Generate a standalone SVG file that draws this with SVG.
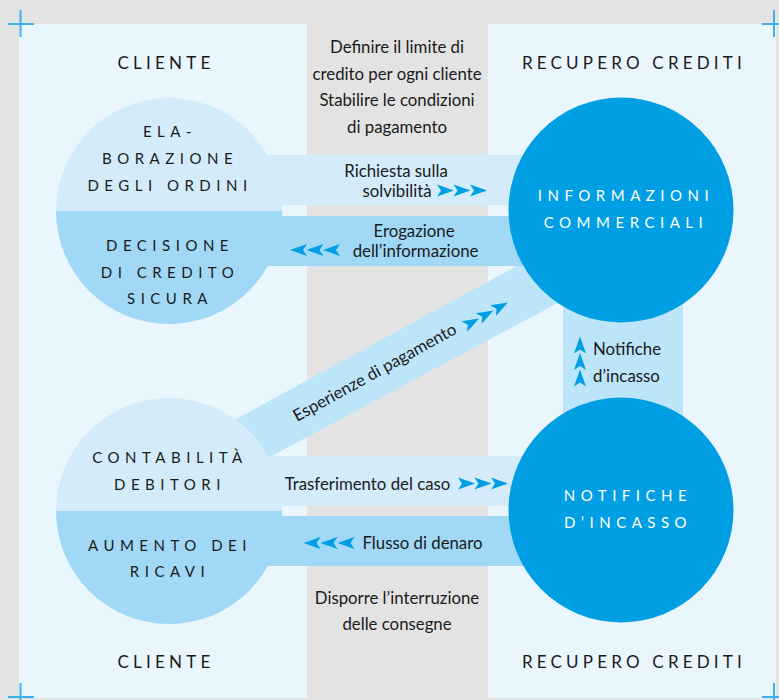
<svg xmlns="http://www.w3.org/2000/svg" width="779" height="700" viewBox="0 0 779 700">
<defs>
<style>
.t{font-family:Lato,"Open Sans","Liberation Sans",sans-serif;font-size:16.8px;fill:#1a1a1a;text-anchor:middle}
.ts{font-family:Lato,"Open Sans","Liberation Sans",sans-serif;font-size:16.8px;fill:#1a1a1a;text-anchor:start}
.cap{font-family:Lato,"Open Sans","Liberation Sans",sans-serif;font-size:15px;letter-spacing:5.5px;text-anchor:middle;fill:#1a1a1a}
.hd{font-family:Lato,"Open Sans","Liberation Sans",sans-serif;font-size:17px;letter-spacing:4.2px;text-anchor:middle;fill:#1a1a1a}
.w{fill:#ffffff}
.lt{fill:#d4ecfa}.dk{fill:#a1d8f6}.md{fill:#bde5f9}.cy{fill:#009fe3}
.pn{fill:#e9f6fe}.gr{fill:#e3e3e3}
.crop{stroke:#3cb0e8;stroke-width:2;fill:none}
</style>
<path id="ar" d="M-8.5,-6 L8.5,0 L-8.5,6 L-4.5,0 Z" fill="#009fe3"/>
</defs>
<g id="background">
<rect class="gr" x="0" y="0" width="779" height="700"/>
<rect class="pn" x="19" y="24" width="757" height="674"/>
<rect class="gr" x="307" y="0" width="181" height="700"/>
<path class="crop" d="M8,24H34M20.5,10V37M762,24H779M774,10V37M8,697H34M20.5,683V700M762,697H779M774,683V700"/>
</g>
<g id="connectors">
<polygon class="md" points="180,449.7 620,209.6 640,259 200,494.5"/>
<rect class="md" x="563" y="250" width="120" height="260"/>
<rect class="lt" x="160" y="155" width="400" height="56"/>
<rect class="dk" x="160" y="211" width="400" height="55"/>
<rect class="pn" x="282" y="205" width="280" height="11"/>
<rect class="gr" x="307" y="205" width="181" height="11"/>
<rect class="lt" x="160" y="456" width="400" height="55"/>
<rect class="dk" x="160" y="511" width="400" height="55"/>
<rect class="pn" x="282" y="506" width="280" height="10"/>
<rect class="gr" x="307" y="506" width="181" height="10"/>
<text class="t" x="396" y="177">Richiesta sulla</text>
<text class="t" x="397" y="197">solvibilità</text>
<use href="#ar" transform="translate(445.5,190.5)"/>
<use href="#ar" transform="translate(462,190.5)"/>
<use href="#ar" transform="translate(478.5,190.5)"/>
<text class="t" x="414" y="237">Erogazione</text>
<text class="t" x="415.5" y="257">dell’informazione</text>
<use href="#ar" transform="translate(298.5,250) rotate(180)"/>
<use href="#ar" transform="translate(315,250) rotate(180)"/>
<use href="#ar" transform="translate(331.5,250) rotate(180)"/>
<text class="ts" transform="translate(297,422) rotate(-29)">Esperienze di pagamento</text>
<use href="#ar" transform="translate(471.7,322.5) rotate(-29)"/>
<use href="#ar" transform="translate(486.1,314.5) rotate(-29)"/>
<use href="#ar" transform="translate(500.5,306.5) rotate(-29)"/>
<use href="#ar" transform="translate(580,345) rotate(-90)"/>
<use href="#ar" transform="translate(580,361.5) rotate(-90)"/>
<use href="#ar" transform="translate(580,378) rotate(-90)"/>
<text class="ts" x="593" y="355">Notifiche</text>
<text class="ts" x="593" y="382">d’incasso</text>
<text class="t" x="367.5" y="490">Trasferimento del caso</text>
<use href="#ar" transform="translate(466.5,483.5)"/>
<use href="#ar" transform="translate(483,483.5)"/>
<use href="#ar" transform="translate(499.5,483.5)"/>
<text class="t" x="422.5" y="549">Flusso di denaro</text>
<use href="#ar" transform="translate(312,543) rotate(180)"/>
<use href="#ar" transform="translate(329,543) rotate(180)"/>
<use href="#ar" transform="translate(346,543) rotate(180)"/>
</g>
<g id="notes">
<text class="t" x="397" y="53">Definire il limite di</text>
<text class="t" x="397" y="80">credito per ogni cliente</text>
<text class="t" x="397" y="106">Stabilire le condizioni</text>
<text class="t" x="397" y="133">di pagamento</text>
<text class="t" x="397" y="603.5">Disporre l’interruzione</text>
<text class="t" x="397" y="630">delle consegne</text>
</g>
<g id="headers">
<text class="hd" x="166" y="69">CLIENTE</text>
<text class="hd" x="634" y="69">RECUPERO CREDITI</text>
<text class="hd" x="166" y="668">CLIENTE</text>
<text class="hd" x="634" y="668">RECUPERO CREDITI</text>
</g>
<g id="node-ordini-decisione">
<path class="lt" d="M56,211 A113,113 0 0 1 282,211 Z"/>
<path class="dk" d="M56,211 A113,113 0 0 0 282,211 Z"/>
<text class="cap" x="170" y="137">ELA-</text>
<text class="cap" x="170" y="164">BORAZIONE</text>
<text class="cap" x="170" y="191">DEGLI ORDINI</text>
<text class="cap" x="170" y="251">DECISIONE</text>
<text class="cap" x="170" y="277.5">DI CREDITO</text>
<text class="cap" x="170" y="303.5">SICURA</text>
</g>
<g id="node-contabilita-ricavi">
<path class="lt" d="M56,511 A113,113 0 0 1 282,511 Z"/>
<path class="dk" d="M56,511 A113,113 0 0 0 282,511 Z"/>
<text class="cap" x="170" y="462.5">CONTABILITÀ</text>
<text class="cap" x="170" y="489.5">DEBITORI</text>
<text class="cap" x="170" y="550.5">AUMENTO DEI</text>
<text class="cap" x="170" y="576.5">RICAVI</text>
</g>
<g id="node-informazioni">
<circle class="cy" cx="621" cy="210" r="112.5"/>
<text class="cap w" x="626" y="201">INFORMAZIONI</text>
<text class="cap w" x="626" y="228">COMMERCIALI</text>
</g>
<g id="node-notifiche">
<circle class="cy" cx="621" cy="510" r="112.5"/>
<text class="cap w" x="628" y="501">NOTIFICHE</text>
<text class="cap w" x="628" y="528">D’INCASSO</text>
</g>
</svg>
